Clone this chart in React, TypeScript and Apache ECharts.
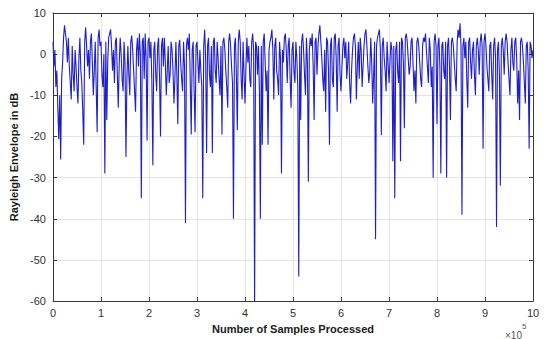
import React, { useEffect, useRef } from "react";
import * as echarts from "echarts";

// Sample spacing on the x axis (units of 1e5 samples)
const xStep = 0.02;

// Rayleigh envelope (dB), one row per 1e5 samples
const envelopeRow0 = [3, -3, 1, -8, -4, -13, -20.7, -10, -25.6, -6, -2, 4, 7, 5, 3, -2, 4, -3, -7, -11, 2, -5, -9, 1, -3, -8, -12, -1, 4, -4, -7, -14, -22, 3, 6.5, 2, -3, 1, -6, 3, 5, -2, -10, -4, 3, -8, -19, 4, 6, 2];
const envelopeRow1 = [3, -5, -8, 0, -29, 3, -16, -2, 4, 5, 6, 2, -4, 1, -7, 3, 4, -5, -13, -2, 4, 0, -6, -9, 3, -2, -25, -6, 2, -5, -10, 3, 4.5, 1, -4, -9, -14, 1, 4, -3, 5, 0, -35, 3, 4, -6, 5, -1, -21, 3];
const envelopeRow2 = [4, -1, 3, -7, -27, 1, 3, -5, -9, 2, 4, -6, -20, 2, 4, -3, 4, -2, -10, -4, 2, -7, -5, 3, 1, -4, -12, -6, 3, -5, -17, 2, 3.5, -2, -6, -9, 3, -3, -41, 2, 4, 1, 5, -7, -19.5, 1, 3, -9, -19, 2];
const envelopeRow3 = [3, -2, -7, 1, -4, -8, -35, 2, 6, -1, -24, 2, 4, -5, -8, 2, -24, 3, 4, -4, -7, 3, -1, -6, -10, 2, -19.5, 3, 4, 1, -4, -8, -13, 3, 5, 2, -3, -7, -40, 2, 4, -5, -18.5, 3, 6, 3, -6, -11, 3, -5];
const envelopeRow4 = [-12, -3, 4, -2, 2, -6, -8, 3, 5, 1, -62, 3, 2, -5, 2, -9, -40, 2, -22, 3, 5, -2, -9, -4, -22, 1, 3, 4, 6, 1, -11, 2, 4, -4, -6, -10, 3, -1, -29, 1, -2, 4, 5, 1, -7, 2, 4, -6, -13, 1];
const envelopeRow5 = [3, -4, -7, 3, -1, -8, -54, 2, -16, 3, 5, 1, -5, -10, 4, -2, -31, 1, 4, 2, 5, -3, -16, 3, 4, -5, 2, 5, 7, 3, -1, -6, -9, 1, -14, 4, 3, -4, -22, 2, 4, -6, -8, 4, 5, -1, -14, 2, 4, -5];
const envelopeRow6 = [-9, -3, 2, 4, -1, 3, -6, -2, 3, -7, -12, -4, 1, 4, 5, 2, -11, -3, 3, -6, 4, 1, -8, -3, 2, 5, 6, 2, -3, -7, -4, 4, -2, -12, -5, 3, -45, 2, 4, 5, 6, 1, -19.7, 2, 4, -1, -4, -9, 3, -2];
const envelopeRow7 = [-7, -2, 3, 1, -26, 2, -35, 1, 3, -4, -7, 3, -26, 4, 3, -2, -18, 4, 5, 3, -1, -5, -3, 3, 4, -2, -9, -4, -12, 3, 4, 2, -2, -6, -8, 2, 4, 3, 5, 1, -3, -7, 4, 1, -8, -3, -30, 3, 5, 2];
const envelopeRow8 = [-17, 2, 4, -3, -29, 2, 3, -4, -6, 3, -30, 2, 4, -3, -16, 3, 4, 2, -2, -6, -9, 3, 6, 4, 7.5, 2, -39, 2, 4, -1, 3, -6, -13, 3, 4, -2, -6, 1, 3, -5, -10, 2, 4, 1, -5, 3, 5, 2, -23, 3];
const envelopeRow9 = [5, 2, -3, -6, -9, 2, 3, -5, -11, 2, 4, -1, -42, 1, 3, -5, -32, 2, 4, 1, -5, 3, 5, 3, -2, -6, -10, 1, 4, -2, -4, 3, 4, -1, -12, -4, -16, 3, 4, 2, -2, -7, -12, 2, 3, -4, -23, 3, 2, -1, 1];

const envelopeDb = [
  ...envelopeRow0, ...envelopeRow1, ...envelopeRow2, ...envelopeRow3, ...envelopeRow4,
  ...envelopeRow5, ...envelopeRow6, ...envelopeRow7, ...envelopeRow8, ...envelopeRow9,
];

const xTicks = [0, 1, 2, 3, 4, 5, 6, 7, 8, 9, 10];
const yTicks = [-60, -50, -40, -30, -20, -10, 0, 10];

export default function App() {
  const ref = useRef<HTMLDivElement>(null);

  useEffect(() => {
    if (!ref.current) return;
    const chart = echarts.init(ref.current, null, { renderer: "svg" });
    const data = envelopeDb.map((v, i) => [i * xStep, v]);
    const axisColor = "#3a3a3a";
    const gridColor = "#e3e3e3";
    const font = "'Liberation Sans', Arial, Helvetica, sans-serif";
    const boxAxis = {
      type: "value",
      axisLine: { show: true, onZero: false, lineStyle: { color: axisColor, width: 1 } },
      axisTick: { show: true, inside: true, length: 4, lineStyle: { color: axisColor } },
      axisLabel: { show: false },
      splitLine: { show: false },
    };
    chart.setOption({
      animation: false,
      backgroundColor: "#ffffff",
      grid: { left: 53, right: 12, top: 13, bottom: 31, containLabel: false },
      xAxis: [
        {
          type: "value",
          min: xTicks[0],
          max: xTicks[xTicks.length - 1],
          interval: 1,
          name: "Number of Samples Processed",
          nameLocation: "middle",
          nameGap: 19,
          nameTextStyle: { fontFamily: font, fontWeight: "bold", fontSize: 11, color: "#1a1a1a" },
          axisLine: { show: true, onZero: false, lineStyle: { color: axisColor, width: 1 } },
          axisTick: { show: true, inside: true, length: 4, lineStyle: { color: axisColor } },
          axisLabel: { fontFamily: font, fontSize: 11, color: "#333", margin: 6 },
          splitLine: { show: true, lineStyle: { color: gridColor, width: 1 } },
        },
        { ...boxAxis, position: "top", min: 0, max: 10, interval: 1 },
      ],
      yAxis: [
        {
          type: "value",
          min: yTicks[0],
          max: yTicks[yTicks.length - 1],
          interval: 10,
          name: "Rayleigh Envelope in dB",
          nameLocation: "middle",
          nameGap: 34,
          nameTextStyle: { fontFamily: font, fontWeight: "bold", fontSize: 11, color: "#1a1a1a" },
          axisLine: { show: true, onZero: false, lineStyle: { color: axisColor, width: 1 } },
          axisTick: { show: true, inside: true, length: 4, lineStyle: { color: axisColor } },
          axisLabel: { fontFamily: font, fontSize: 11, color: "#333", margin: 7 },
          splitLine: { show: true, lineStyle: { color: gridColor, width: 1 } },
        },
        { ...boxAxis, position: "right", min: -60, max: 10, interval: 10 },
      ],
      graphic: [
        {
          type: "text",
          left: 505,
          top: 322,
          style: {
            text: "{a|×10}{b|5}",
            rich: {
              a: { fontFamily: font, fontSize: 10, fill: "#555", verticalAlign: "bottom", padding: [8, 0, 0, 0] },
              b: { fontFamily: font, fontSize: 8, fill: "#555", verticalAlign: "top" },
            },
          },
        },
      ],
      series: [
        {
          type: "line",
          data,
          xAxisIndex: 0,
          yAxisIndex: 0,
          showSymbol: false,
          symbol: "none",
          clip: true,
          lineStyle: { color: "#1e1ecc", width: 1.1 },
        },
      ],
    });
    return () => chart.dispose();
  }, []);

  return (
    <div
      ref={ref}
      style={{ position: "fixed", left: 0, top: 0, width: 545, height: 339 }}
    />
  );
}
